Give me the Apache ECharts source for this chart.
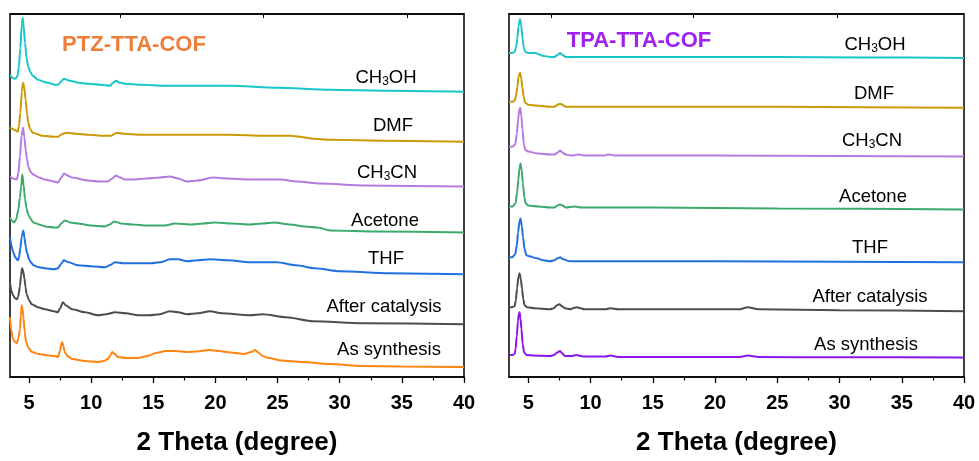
<!DOCTYPE html>
<html>
<head>
<meta charset="utf-8">
<script src="https://cdn.jsdelivr.net/npm/echarts@6/dist/echarts.min.js"></script>
<style>
html,body{margin:0;padding:0;background:#fff;}
#chart{width:979px;height:461px;}
</style>
</head>
<body>
<div id="chart"></div>
<script>
// ---------- data (2θ, stacked intensity in arbitrary units) ----------
// PTZ-TTA-COF (left panel)
const ptzCH3OH = [[3.47,303],[3.65,300],[3.87,299],[4.05,301],[4.18,310],[4.3,330],[4.42,354],[4.49,360],[4.57,352],[4.68,335],[4.8,320],[4.94,311],[5.1,306],[5.3,302],[5.72,298],[6.5,295],[7.1,293],[7.33,293],[7.55,296],[7.81,299],[8.3,297],[9.0,295],[9.75,294],[10.8,293],[11.52,292],[11.75,295],[12.0,297],[12.35,295],[12.72,294],[14,293],[15.94,292],[18.5,292],[21.17,292],[25,290],[29.21,288],[34,287],[40,286]];
const ptzDMF = [[3.47,250],[3.8,248],[4.1,246],[4.2,252],[4.3,265],[4.42,286],[4.52,295],[4.62,290],[4.73,278],[4.84,264],[4.94,255],[5.08,249],[5.3,245],[6.04,242],[7.0,241],[7.33,241],[7.7,244],[8.06,245],[8.8,244],[9.75,243],[11.0,242],[11.6,242],[12.08,245],[12.6,244],[14.0,243],[15.94,243],[18.5,243],[21.17,243],[24,242],[26.0,242],[26.8,241],[27.36,240],[27.85,239],[29.2,238],[34,237],[40,236]];
const ptzCH3CN = [[3.47,201],[3.7,199],[4.03,198],[4.15,205],[4.27,221],[4.4,242],[4.52,250],[4.62,241],[4.73,228],[4.84,218],[4.94,211],[5.1,206],[5.35,203],[5.8,200],[6.29,198],[7.0,196],[7.33,195],[7.6,200],[7.81,204],[8.1,202],[8.46,200],[9.75,197],[10.6,196],[11.35,196],[11.7,199],[12.0,202],[12.35,200],[12.72,198],[13.36,198],[14.5,199],[15.5,200],[16.34,201],[17.0,199],[17.71,196],[18.6,197],[19.8,200],[21.0,199],[22.78,198],[25.2,198],[26.56,196],[28.41,194],[32,192],[40,191]];
const ptzAcetone = [[3.47,160],[3.6,157],[3.79,155],[3.97,158],[4.14,168],[4.27,180],[4.36,190],[4.46,203],[4.57,192],[4.68,178],[4.8,169],[4.94,163],[5.1,159],[5.35,155],[5.8,153],[6.29,151],[7.0,150],[7.33,150],[7.6,154],[7.89,157],[8.3,155],[8.94,154],[10.0,152],[11.11,151],[11.5,153],[11.84,156],[12.4,154],[13.29,153],[14.5,152],[15.94,152],[16.74,154],[18.1,153],[19.0,154],[19.9,155],[21.3,154],[22.78,153],[23.8,154],[24.7,155],[26.0,153],[27.2,151],[28.2,150],[29.2,147],[33,146],[40,145]];
const ptzTHF = [[3.47,140],[3.6,131],[3.73,125],[3.9,120],[4.09,117],[4.2,120],[4.3,129],[4.42,141],[4.54,147],[4.63,140],[4.73,131],[4.85,124],[5.0,118],[5.15,115],[5.35,112],[5.8,110],[6.29,109],[7.0,108],[7.33,109],[7.55,113],[7.81,117],[8.2,115],[8.94,112],[10.0,111],[11.11,110],[11.5,112],[11.92,115],[12.6,114],[13.77,114],[14.8,114],[15.54,115],[16.34,118],[17.0,118],[17.71,116],[18.6,117],[19.56,118],[21.0,117],[22.78,115],[24.95,115],[26.5,112],[28.0,109],[30.02,106],[34,104],[40,103]];
const ptzAfter = [[3.47,94],[3.6,86],[3.71,82],[3.88,79],[4.03,78],[4.14,81],[4.27,91],[4.36,102],[4.44,109],[4.53,106],[4.63,99],[4.72,90],[4.81,83],[5.0,77],[5.22,73],[5.7,70],[6.29,68],[7.0,66],[7.33,65],[7.5,69],[7.73,75],[7.95,72],[8.46,68],[9.5,65],[10.55,62],[11.2,63],[11.92,65],[12.8,64],[13.77,62],[14.7,62],[15.54,63],[16.34,66],[17.0,65],[17.71,63],[18.6,64],[19.56,66],[20.5,64],[22.78,62],[23.82,63],[25.7,60],[27.85,56],[31.9,54],[40,53]];
const ptzAsSyn = [[3.47,60],[3.55,48],[3.71,38],[3.87,35],[4.03,34],[4.15,39],[4.27,48],[4.35,62],[4.41,72],[4.48,68],[4.55,60],[4.65,46],[4.76,35],[4.95,29],[5.24,25],[5.8,23],[6.29,22],[7.0,21],[7.33,20],[7.49,26],[7.6,33],[7.68,35],[7.76,31],[7.85,26],[7.97,23],[8.2,20],[8.46,18],[9.5,16],[10.55,15],[11.0,16],[11.35,18],[11.55,22],[11.7,25],[11.9,23],[12.16,20],[12.8,19],[13.77,19],[14.5,21],[15.2,24],[16.0,26],[16.8,26],[17.71,25],[18.5,25.5],[19.5,27],[20.3,26],[21.2,24.5],[22.3,23],[22.9,25],[23.18,27],[23.5,24],[23.8,21],[24.3,19],[25.3,16.5],[27.0,15],[29.2,13],[31.8,11],[35,10.5],[40,10]];

// TPA-TTA-COF (right panel)
const tpaCH3OH = [[3.45,325],[3.7,325],[3.9,326],[4.02,330],[4.12,340],[4.22,352],[4.33,359],[4.43,353],[4.53,340],[4.63,331],[4.75,326],[5.0,325],[5.55,325],[6.2,322],[6.75,321],[7.1,321],[7.35,323],[7.55,325],[7.75,323],[8.0,321],[8.5,321],[10,321],[15,321],[20,321],[25,321],[32,320.5],[40,320]];
const tpaDMF = [[3.45,276],[3.7,276],[3.9,277],[4.02,282],[4.12,291],[4.22,301],[4.33,305],[4.43,300],[4.53,290],[4.63,281],[4.75,275],[5.0,273],[5.8,272],[6.75,271],[7.1,271],[7.35,273],[7.55,274],[7.75,273],[8.0,271],[8.5,271],[15,271],[25,271],[32,270.5],[40,270]];
const tpaCH3CN = [[3.45,231],[3.7,231],[3.95,233],[4.08,244],[4.18,258],[4.27,268],[4.35,270],[4.44,262],[4.54,248],[4.64,234],[4.75,228],[5.0,226],[5.8,224],[6.75,223],[7.1,223],[7.35,225],[7.55,227],[7.75,225],[8.0,223],[8.5,222],[9.0,223],[9.6,222],[11.0,222],[11.5,223],[12,222],[20,222],[30,221.5],[40,221]];
const tpaAcetone = [[3.45,171],[3.75,171],[3.97,174],[4.1,185],[4.2,198],[4.3,210],[4.38,214],[4.47,207],[4.57,194],[4.68,180],[4.8,174],[5.0,172],[5.8,171],[6.75,170],[7.1,170],[7.35,172],[7.55,173],[7.75,172],[8.0,170],[8.7,171],[9.3,170],[15,170],[25,169],[40,168]];
const tpaTHF = [[3.45,120],[3.7,120],[3.95,123],[4.08,132],[4.18,145],[4.29,156],[4.38,159],[4.48,151],[4.58,140],[4.7,128],[4.85,122],[5.1,121],[5.7,119],[6.2,117],[6.75,116],[7.1,117],[7.35,119],[7.55,120],[7.8,118],[8.35,116],[10,116],[20,116],[30,115.5],[40,115]];
const tpaAfter = [[3.45,70],[3.7,70],[3.9,71],[4.0,77],[4.1,89],[4.2,100],[4.3,104],[4.4,98],[4.5,88],[4.6,78],[4.7,72],[4.9,70],[5.5,69],[6.75,68],[7.05,69],[7.3,72],[7.5,73],[7.7,71],[7.95,69],[8.4,68],[8.7,69.5],[8.9,70],[9.2,69],[9.5,68],[11.2,68],[11.6,69],[12.2,68],[17,68],[22,68],[22.6,70],[23.5,68],[30,67],[40,66]];
const tpaAsSyn = [[3.45,22],[3.7,22],[3.9,23],[3.98,28],[4.07,41],[4.17,56],[4.25,64],[4.3,65],[4.37,59],[4.45,48],[4.55,33],[4.65,25],[4.85,22],[5.5,21.5],[6.75,21],[7.05,22],[7.3,24.5],[7.55,26],[7.75,23.5],[7.95,21],[8.5,21],[8.85,22],[9.4,20.5],[11.2,20.5],[11.6,21.5],[12.2,20],[17,20],[22,20],[22.6,21.5],[23.5,20],[30,19.8],[40,19.5]];

const majorTicks = [5,10,15,20,25,30,35,40];
const minorTicks = [7.5,12.5,17.5,22.5,27.5,32.5,37.5];
const sampleNames = ['CH3OH','DMF','CH3CN','Acetone','THF','After catalysis','As synthesis'];
const colorsPTZ = ['#19C6C9','#C99A06','#B57AE0','#3DAA6D','#2070DE','#4D4D4D','#FF8410'];
const colorsTPA = ['#19C6C9','#C99A06','#B57AE0','#3DAA6D','#2070DE','#4D4D4D','#8B16EF'];
const ptzSeries = [ptzCH3OH, ptzDMF, ptzCH3CN, ptzAcetone, ptzTHF, ptzAfter, ptzAsSyn];
const tpaSeries = [tpaCH3OH, tpaDMF, tpaCH3CN, tpaAcetone, tpaTHF, tpaAfter, tpaAsSyn];

// ---------- chart ----------
const FONT = 'Liberation Sans, Arial, sans-serif';
const chart = echarts.init(document.getElementById('chart'), null, {renderer:'canvas'});

function bottomMajor(grid, min){
  return {
    type:'value', gridIndex:grid, position:'bottom', min:min, max:40,
    axisLine:{show:true, onZero:false, lineStyle:{color:'#000', width:1.5}},
    axisTick:{show:true, inside:false, length:6, customValues:majorTicks, lineStyle:{color:'#000', width:1.3}},
    axisLabel:{show:true, customValues:majorTicks, margin:16, color:'#000', fontFamily:FONT, fontWeight:'bold', fontSize:20},
    splitLine:{show:false},
    name:'2 Theta (degree)', nameLocation:'middle', nameGap:53,
    nameTextStyle:{color:'#000', fontFamily:FONT, fontWeight:'bold', fontSize:26}
  };
}
function bottomMinor(grid, min){
  return {
    type:'value', gridIndex:grid, position:'bottom', min:min, max:40,
    axisLine:{show:false, onZero:false},
    axisTick:{show:true, inside:false, length:3.5, customValues:minorTicks, lineStyle:{color:'#000', width:1.2}},
    axisLabel:{show:false}, splitLine:{show:false}
  };
}
function topAxis(grid, min, ticks){
  return {
    type:'value', gridIndex:grid, position:'top', min:min, max:40,
    axisLine:{show:true, onZero:false, lineStyle:{color:'#000', width:1.5}},
    axisTick:{show:true, inside:true, length:4, customValues:ticks, lineStyle:{color:'#000', width:1}},
    axisLabel:{show:false}, splitLine:{show:false}
  };
}

const series = [];
ptzSeries.forEach((d,i)=>series.push({
  type:'line', xAxisIndex:0, yAxisIndex:0, data:d, showSymbol:false, symbol:'none',
  smooth:0.25, smoothMonotone:'x',
  lineStyle:{color:colorsPTZ[i], width:2}, z:3, silent:true
}));
tpaSeries.forEach((d,i)=>series.push({
  type:'line', xAxisIndex:3, yAxisIndex:1, data:d, showSymbol:false, symbol:'none',
  smooth:0.25, smoothMonotone:'x',
  lineStyle:{color:colorsTPA[i], width:2}, z:3, silent:true
}));

function labelText(name){
  if(name==='CH3OH') return '{a|CH}{s|3}{a|OH}';
  if(name==='CH3CN') return '{a|CH}{s|3}{a|CN}';
  return '{a|'+name+'}';
}
const richStyle = {
  a:{fontSize:18.5, fontFamily:FONT, color:'#000', lineHeight:20},
  s:{fontSize:12, fontFamily:FONT, color:'#000', lineHeight:10, verticalAlign:'bottom'}
};
const leftLabelPos = [[386,78],[393,126],[387,173],[385,221],[386,259],[384,307],[389,350]];
const rightLabelPos = [[875,45],[874,94],[872,141],[873,197],[870,248],[870,297],[866,345]];
const graphics = [];
sampleNames.forEach((n,i)=>{
  graphics.push({type:'text', x:leftLabelPos[i][0], y:leftLabelPos[i][1], z:10,
    style:{text:labelText(n), rich:richStyle, align:'center', verticalAlign:'middle'}});
  graphics.push({type:'text', x:rightLabelPos[i][0], y:rightLabelPos[i][1], z:10,
    style:{text:labelText(n), rich:richStyle, align:'center', verticalAlign:'middle'}});
});
graphics.push({type:'text', x:134, y:45, z:10, style:{text:'PTZ-TTA-COF', fill:'#EE7E3A', font:'bold 22px '+FONT, align:'center', verticalAlign:'middle'}});
graphics.push({type:'text', x:639, y:41, z:10, style:{text:'TPA-TTA-COF', fill:'#A020F0', font:'bold 22px '+FONT, align:'center', verticalAlign:'middle'}});

chart.setOption({
  backgroundColor:'#fff',
  animation:false,
  grid:[
    {left:10, top:14, width:454, height:364, show:true, borderColor:'#000', borderWidth:1.5, backgroundColor:'transparent'},
    {left:509, top:14, width:455, height:364, show:true, borderColor:'#000', borderWidth:1.5, backgroundColor:'transparent'}
  ],
  xAxis:[
    bottomMajor(0, 3.47), bottomMinor(0, 3.47), topAxis(0, 3.47, [12.32,23.82,35.41]),
    bottomMajor(1, 3.45), bottomMinor(1, 3.45), topAxis(1, 3.45, [6.82,18.22,29.78])
  ],
  yAxis:[
    {type:'value', gridIndex:0, min:0, max:364, show:false},
    {type:'value', gridIndex:1, min:0, max:364, show:false}
  ],
  series:series,
  graphic:graphics
});
</script>
</body>
</html>
